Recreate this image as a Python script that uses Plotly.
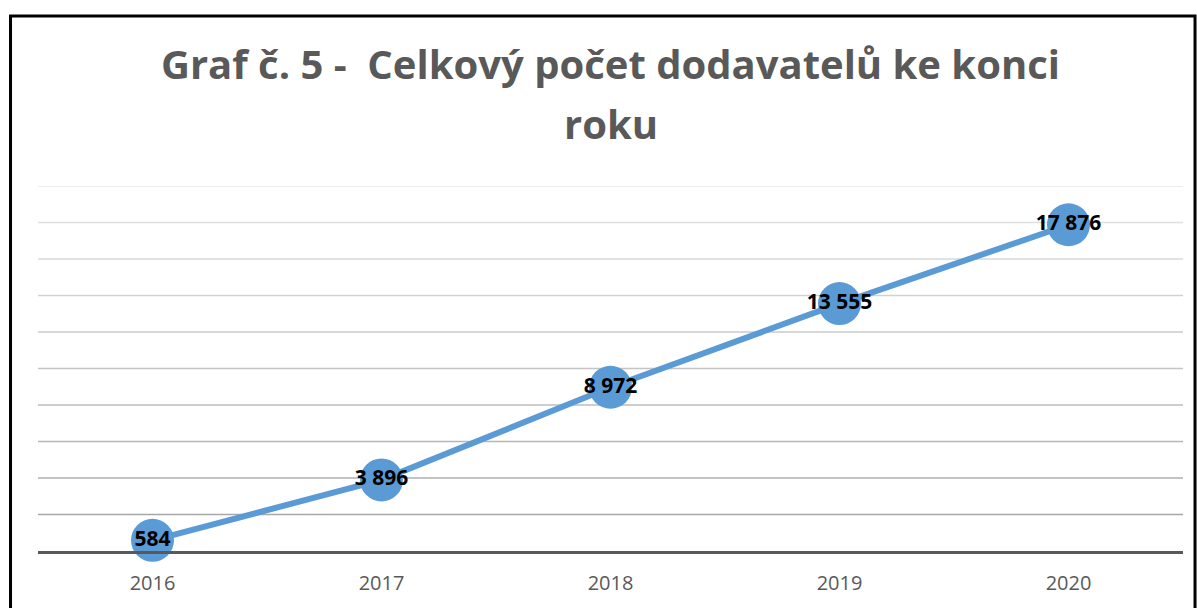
import plotly.graph_objects as go

years = ["2016", "2017", "2018", "2019", "2020"]
suppliers = [584, 3896, 8972, 13555, 17876]
grid_values = [2000, 4000, 6000, 8000, 10000, 12000, 14000, 16000, 18000, 20000]
title_line1 = "Graf č. 5 -&nbsp; Celkový počet dodavatelů ke konci"
title_line2 = "roku"

fig = go.Figure()
fig.add_trace(go.Scatter(
    x=years, y=suppliers, mode="lines+markers+text",
    line=dict(color="#5b9bd5", width=6),
    marker=dict(size=43, color="#5b9bd5"),
    texttemplate="%{y:,}", textposition="middle center",
    textfont=dict(family="Open Sans", size=21, color="#000000", weight="bold"),
    hoverinfo="skip", cliponaxis=False,
))

# gridlines, darkening toward the axis
shapes = []
n = len(grid_values)
for i, v in enumerate(grid_values):
    t = i / (n - 1)
    c = int(round(0xa8 + (0xe6 - 0xa8) * t))
    shapes.append(dict(type="line", xref="paper", yref="y", x0=0, x1=1, y0=v, y1=v,
                       line=dict(color=f"rgb({c},{c},{c})", width=1.3), layer="below"))
# outer frame
shapes.append(dict(type="rect", xref="paper", yref="paper", x0=-0.0240, x1=1.0105,
                   y0=-0.3, y1=1.4658, line=dict(color="#000000", width=3), layer="above"))

title_font = dict(family="Open Sans", size=40, color="#595959", weight="bold")

fig.update_layout(
    width=1197, height=608,
    margin=dict(l=38, r=14, t=186, b=57),
    paper_bgcolor="white", plot_bgcolor="white",
    separators=", ",
    showlegend=False,
    shapes=shapes,
    title=dict(text=title_line1, x=0.51, xanchor="center", y=1 - 51 / 608, yanchor="top",
               yref="container", font=title_font),
    annotations=[dict(text=title_line2, xref="paper", yref="paper", x=0.5, y=1.170,
                      xanchor="center", yanchor="middle", showarrow=False, font=title_font)],
    xaxis=dict(type="category", range=[-0.5, 4.5], showgrid=False, showline=True,
               linecolor="#595959", linewidth=3, ticks="", zeroline=False,
               ticklabelstandoff=12,
               tickfont=dict(family="Open Sans", size=20, color="#595959")),
    yaxis=dict(range=[0, 20000], showgrid=False, zeroline=False, showticklabels=False,
               showline=False, ticks=""),
)

fig.write_html("out.html", config={"displayModeBar": False},
               post_script="document.body.style.margin='0';document.body.style.overflow='hidden';")
